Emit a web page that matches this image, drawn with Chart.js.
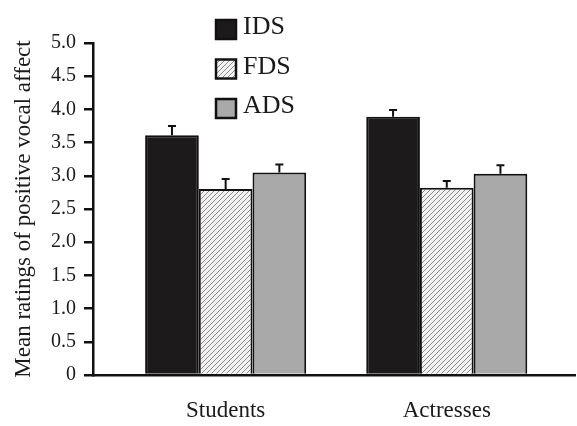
<!DOCTYPE html>
<html>
<head>
<meta charset="utf-8">
<script src="https://cdn.jsdelivr.net/npm/chart.js@4/dist/chart.umd.min.js"></script>
<style>
html,body{margin:0;padding:0;background:#fff;}
#wrap{width:577px;height:426px;position:relative;}
</style>
</head>
<body>
<div id="wrap"><canvas id="c"></canvas></div>
<script>
// ---- data ----
const categories = ['Students', 'Actresses'];
const seriesNames = ['IDS', 'FDS', 'ADS'];
const idsMeans = [3.61, 3.89];
const fdsMeans = [2.80, 2.82];
const adsMeans = [3.05, 3.03];
const idsErr = [0.14, 0.10];
const fdsErr = [0.15, 0.10];
const adsErr = [0.12, 0.13];
const yTicks = [0, 0.5, 1.0, 1.5, 2.0, 2.5, 3.0, 3.5, 4.0, 4.5, 5.0];
const yTitle = 'Mean ratings of positive vocal affect';

// hatch pattern for FDS
function makeHatch() {
  const p = document.createElement('canvas');
  p.width = 5; p.height = 5;
  const g = p.getContext('2d');
  g.fillStyle = '#f2f2f2';
  g.fillRect(0, 0, 5, 5);
  g.strokeStyle = '#8a8a8a';
  g.lineWidth = 1;
  g.beginPath();
  g.moveTo(0, 5); g.lineTo(5, 0);
  g.moveTo(-1, 1); g.lineTo(1, -1);
  g.moveTo(4, 6); g.lineTo(6, 4);
  g.stroke();
  return g.createPattern(p, 'repeat');
}
const hatch = makeHatch();

const serif = '"Liberation Serif", "DejaVu Serif", serif';

function toPoints(vals) { return vals.map((v, i) => ({x: i + 1, y: v})); }

const means = [idsMeans, fdsMeans, adsMeans];
const errs = [idsErr, fdsErr, adsErr];
const fills = ['#1c1a1a', hatch, '#a9a9a9'];

const datasets = seriesNames.map((n, k) => ({
  label: n,
  data: toPoints(means[k]),
  errors: errs[k],
  backgroundColor: fills[k],
  borderColor: '#111',
  borderWidth: 2,
  borderSkipped: 'start',
  categoryPercentage: 0.7285,
  barPercentage: 1.0
}));

const errorBars = {
  id: 'errorBars',
  afterDatasetsDraw(chart) {
    const ctx = chart.ctx;
    const ys = chart.scales.y;
    ctx.save();
    ctx.strokeStyle = '#111';
    ctx.lineWidth = 2;
    chart.data.datasets.forEach((ds, di) => {
      const meta = chart.getDatasetMeta(di);
      meta.data.forEach((bar, i) => {
        const v = ds.data[i].y;
        const e = ds.errors[i];
        const y0 = ys.getPixelForValue(v);
        const y1 = ys.getPixelForValue(v + e);
        ctx.beginPath();
        ctx.moveTo(bar.x, y0);
        ctx.lineTo(bar.x, y1);
        ctx.moveTo(bar.x - 4, y1);
        ctx.lineTo(bar.x + 4, y1);
        ctx.stroke();
      });
    });
    ctx.restore();
  }
};

const customLegend = {
  id: 'customLegend',
  afterDraw(chart) {
    const ctx = chart.ctx;
    ctx.save();
    const x0 = 216, top0 = 20, step = 39.5, bw = 20, bh = 19;
    chart.data.datasets.forEach((ds, i) => {
      const y = top0 + i * step;
      ctx.fillStyle = ds.backgroundColor;
      ctx.fillRect(x0, y, bw, bh);
      ctx.strokeStyle = '#111';
      ctx.lineWidth = 2.5;
      ctx.strokeRect(x0, y, bw, bh);
      ctx.fillStyle = '#1a1a1a';
      ctx.font = '26px ' + serif;
      ctx.textBaseline = 'alphabetic';
      ctx.textAlign = 'left';
      ctx.fillText(ds.label, x0 + 27, y + 14);
    });
    ctx.restore();
  }
};

new Chart(document.getElementById('c'), {
  type: 'bar',
  data: { datasets },
  options: {
    responsive: true,
    maintainAspectRatio: false,
    animation: false,
    layout: { padding: { top: 43, right: 2, left: 0, bottom: 0 } },
    plugins: { legend: { display: false }, tooltip: { enabled: false } },
    scales: {
      x: {
        type: 'linear',
        offset: false,
        min: 0.4,
        max: 2.58,
        afterBuildTicks(scale) { scale.ticks = categories.map((c, i) => ({ value: i + 1 })); },
        afterFit(scale) { scale.height = 51; },
        grid: { display: false, drawTicks: false, offset: false },
        border: { display: true, color: '#111', width: 2.5 },
        ticks: {
          callback: (v, i) => categories[i],
          font: { family: serif, size: 23 },
          color: '#1a1a1a',
          padding: 22,
          maxRotation: 0
        }
      },
      y: {
        min: 0,
        max: 5,
        afterBuildTicks(scale) { scale.ticks = yTicks.map(v => ({ value: v })); },
        afterFit(scale) { scale.width = 93; },
        grid: { display: true, drawOnChartArea: false, drawTicks: true, tickLength: 9, color: '#111', lineWidth: 2.5 },
        border: { display: true, color: '#111', width: 2.5 },
        ticks: {
          callback: (v) => v === 0 ? '0' : v.toFixed(1),
          font: { family: serif, size: 20 },
          color: '#1a1a1a',
          padding: 8
        },
        title: {
          display: true,
          text: yTitle,
          font: { family: serif, size: 23 },
          color: '#1a1a1a',
          padding: { top: 10, bottom: 0 }
        }
      }
    }
  },
  plugins: [errorBars, customLegend]
});
</script>
</body>
</html>
